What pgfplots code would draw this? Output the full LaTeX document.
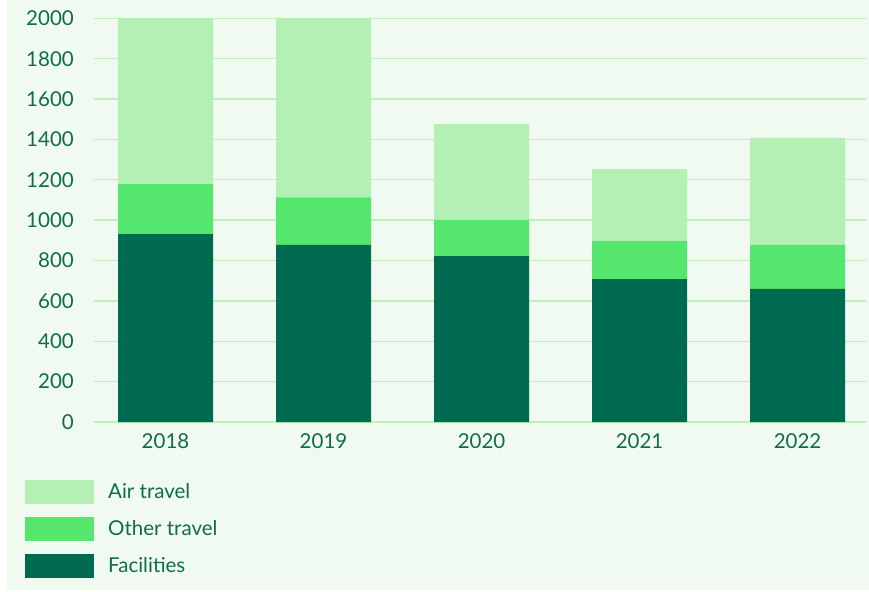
\documentclass[border=0pt]{standalone}
\usepackage{fontspec}
\setmainfont{Lato}
\usepackage{pgfplots}
\pgfplotsset{compat=1.18}
\definecolor{bg}{HTML}{F0FAF0}
\definecolor{gridc}{HTML}{BDF0BD}
\definecolor{fac}{HTML}{006B50}
\definecolor{oth}{HTML}{55E66D}
\definecolor{air}{HTML}{B4F0B4}
\definecolor{txt}{HTML}{106B50}
\begin{document}
\begin{tikzpicture}
\fill[white] (0pt,0pt) rectangle (869pt,591pt);
\fill[bg] (7pt,1pt) rectangle (869pt,591pt);
\path[use as bounding box] (0pt,0pt) rectangle (869pt,591pt);
\begin{axis}[
  at={(94pt,169pt)}, anchor=south west,
  scale only axis, width=772pt, height=403.7pt,
  ybar stacked, bar width=95pt,
  xmin=-0.4525, xmax=4.433,
  ymin=0, ymax=2000,
  xtick=data, xticklabels={2018,2019,2020,2021,2022},
  ytick={0,200,...,2000},
  major tick length=0pt,
  axis line style={draw=none},
  ymajorgrids, grid style={gridc, line width=1.3pt},
  tick label style={font=\fontsize{20.5}{24}\selectfont, text=txt},
  /pgf/number format/assume math mode=true,
  /pgf/number format/1000 sep={},
  xticklabel style={inner sep=0pt, anchor=north, yshift=-11pt},
  yticklabel style={inner sep=0pt, anchor=east, xshift=-20pt},
  legend style={at={(axis description cs:-0.08938,-0.14367)}, anchor=north west,
    draw=none, fill=none, inner sep=0pt, row sep=13.5pt,
    font=\fontsize{20.5}{24}\selectfont, text=txt,
    nodes={inner sep=0pt},
    /tikz/every odd column/.append style={column sep=14pt}},
  legend cell align=left,
  reverse legend,
  legend image code/.code={\fill[#1] (0pt,-11.75pt) rectangle (69pt,11.75pt);},
]
\addplot[fill=fac, draw=none] coordinates {(0,931) (1,877) (2,822) (3,708) (4,659)};
\addplot[fill=oth, draw=none] coordinates {(0,248) (1,236) (2,179) (3,189) (4,218)};
\addplot[fill=air, draw=none] coordinates {(0,1000) (1,1000) (2,475) (3,356) (4,530)};
\legend{Facilities, Other travel, Air travel}
\end{axis}
\end{tikzpicture}
\end{document}
